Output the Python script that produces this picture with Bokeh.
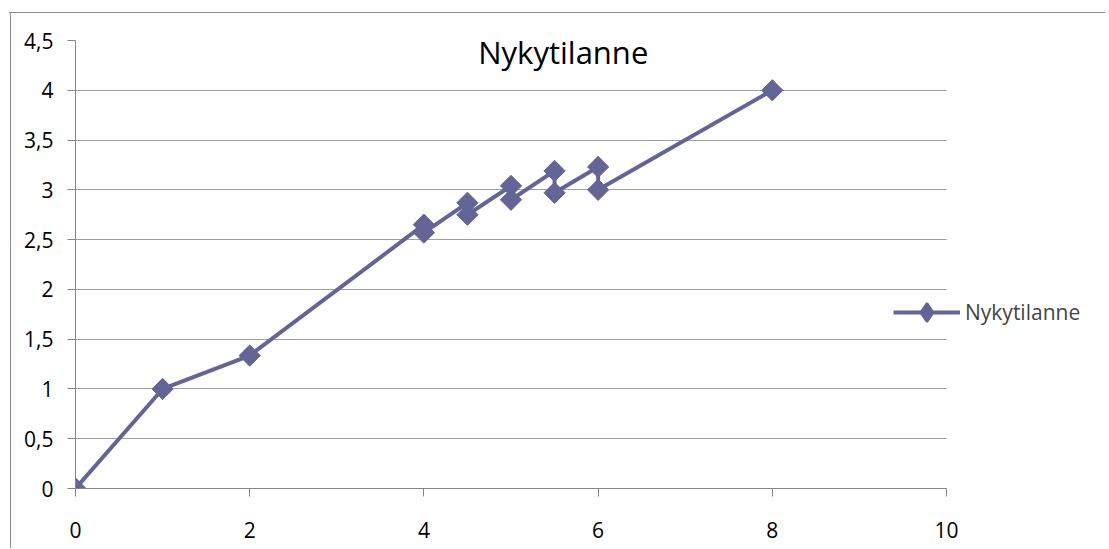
from bokeh.plotting import figure
from bokeh.models import Range1d, FixedTicker, Legend, LegendItem, Label
from bokeh.embed import file_html
from bokeh.resources import INLINE
import math

# data (series "Nykytilanne")
x_vals = [0, 1, 2, 4, 4, 4.5, 4.5, 5, 5, 5.5, 5.5, 6, 6, 8]
y_vals = [0, 1, 1.335, 2.65, 2.57, 2.87, 2.75, 3.04, 2.9, 3.19, 2.97, 3.23, 3.0, 4.0]
x_ticks = [0, 2, 4, 6, 8, 10]
y_ticks = [0, 0.5, 1, 1.5, 2, 2.5, 3, 3.5, 4, 4.5]
series_name = "Nykytilanne"
title_text = "Nykytilanne"

COLOR = "#646497"
GRID = "#a0a0a0"
AXIS = "#868686"
EDGE = "#8c8c8c"
FONT = "Open Sans"

X_MAX = 10
Y_MAX = 4.5
PX = 871 / X_MAX          # pixels per x unit on the 0..10 axis
W = 1096
LEFT = 66
frame_w = W - LEFT
x_end = frame_w / PX      # frame extends to the right to host the legend

p = figure(width=W, height=546, x_range=Range1d(0, x_end), y_range=Range1d(0, Y_MAX),
           output_backend="svg", toolbar_location=None,
           min_border_left=LEFT, min_border_right=0, min_border_top=38, min_border_bottom=60)
p.styles = {
    "margin-left": "9px", "margin-top": "2px",
    "background": f"linear-gradient({EDGE},{EDGE}) no-repeat 0px 10px / 100% 1px, "
                  f"linear-gradient({EDGE},{EDGE}) no-repeat 1px 10px / 1px 100%, white",
}
p.outline_line_color = None
p.background_fill_color = "white"
p.border_fill_alpha = 0

p.xgrid.visible = False
p.ygrid.grid_line_color = GRID
p.ygrid.grid_line_width = 1
p.ygrid.ticker = FixedTicker(ticks=y_ticks)
p.ygrid.cross_bounds = (0, X_MAX)

for ax in (p.xaxis[0], p.yaxis[0]):
    ax.axis_line_color = AXIS
    ax.major_tick_line_color = AXIS
    ax.major_tick_out = 8
    ax.major_tick_in = 0
    ax.minor_tick_line_color = None
    ax.major_label_text_font = FONT
    ax.major_label_text_font_size = "21px"
    ax.major_label_text_color = "black"

p.xaxis[0].ticker = FixedTicker(ticks=x_ticks)
p.xaxis[0].bounds = (0, X_MAX)
p.xaxis[0].major_label_standoff = 25
p.yaxis[0].ticker = FixedTicker(ticks=y_ticks)
p.yaxis[0].major_label_standoff = 14
p.yaxis[0].major_label_overrides = {t: (str(t) if t != int(t) else str(int(t))).replace(".", ",") for t in y_ticks}

line = p.line(x_vals, y_vals, line_color=COLOR, line_width=4)
# diamond used for the legend swatch (legend swatches are never rotated); hidden under the first marker
legend_mark = p.scatter(x=x_vals[:1], y=y_vals[:1], marker="diamond", size=16, fill_color=COLOR,
                        line_color=COLOR, line_width=4, line_join="round")
marks = p.scatter(x_vals, y_vals, marker="square", size=15, angle=math.pi / 4,
                  fill_color=COLOR, line_color=COLOR)

title = Label(x=5.6, y=4.38, text=title_text, text_align="center", text_baseline="alphabetic",
              text_font=FONT, text_font_size="31px", text_color="black")
p.add_layout(title)

legend = Legend(items=[LegendItem(label=series_name, renderers=[line, legend_mark])],
                location=(818, 156), padding=0, margin=0, glyph_width=67, glyph_height=40,
                label_standoff=5, label_text_font=FONT, label_text_font_size="21px",
                background_fill_alpha=0, border_line_color=None)
p.add_layout(legend, "center")

open("out.html", "w").write(file_html(p, INLINE))
